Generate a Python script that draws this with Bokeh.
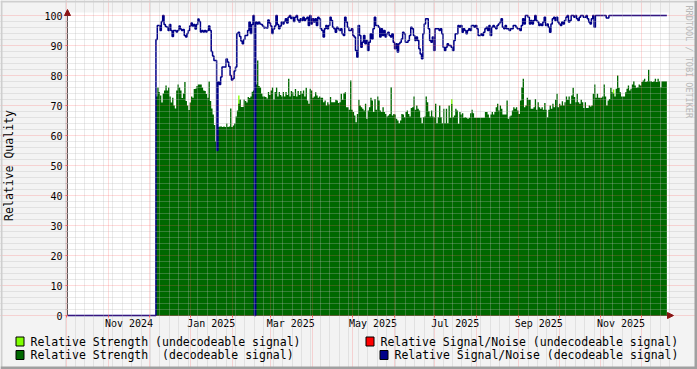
import numpy as np
import pandas as pd
from math import pi
from bokeh.plotting import figure
from bokeh.models import Range1d, FixedTicker, Label, BoxAnnotation, Arrow, NormalHead
from bokeh.embed import file_html
from bokeh.resources import INLINE

# ---------------- data ----------------
origin = pd.Timestamp("2024-11-01")
first_day = "2024-12-06"

strength_decodeable = [
    73, 76, 74.5, 73.3, 71, 74, 75, 76.7, 75, 76, 73, 71, 72.6, 70, 69, 75, 77, 76, 75, 72.5,
    74, 77.8, 71.5, 70, 68.5, 71, 73, 72.6, 75.5, 75.6, 76.5, 77, 77, 77, 76, 75, 74.8, 73.8, 72.6, 78,
    71.5, 69, 67, 63.5, 58, 55, 62.8, 63, 63, 62.8, 63, 62.8, 64, 62.8, 63, 69, 62.8, 63.3, 64, 66.3,
    68.3, 70.6,
    72, 69.5, 69.5, 72, 71.5, 71, 72.8, 72.5, 73, 74.6, 75, 75, 77, 85, 76.5, 76, 74, 73, 73, 72.8,
    72.3, 74.5, 73.5, 75, 76, 72, 74.5, 76, 73, 74.5, 73.5, 73, 74.5, 73, 74.5, 73.5, 78.9, 73, 74.8, 74.4,
    73.2, 75.5, 73, 74.8, 73.5, 74.8, 74, 75, 73, 75.9, 71.7, 70.6, 75.6, 75, 72.6, 73, 74.4, 73.3, 72.6, 73,
    72.6, 72.6, 71.1,
    71.7, 70, 71.1, 70.3, 72.8, 71.1, 71.1, 71.1, 71.9, 71.7, 70.8, 71.1, 73.9, 71.9, 74.1, 74.4, 69.4, 69.4, 68.6, 78.3,
    68.6, 67.8, 66.7, 64.4, 67.2, 71.9, 70, 69.4, 68.9, 68.3, 70.6, 65.6, 68.3, 69.4, 72.6, 71.7, 67.8, 72.2, 68.6, 73,
    71.7, 68.3, 67.8, 69.4, 67.8, 67.2, 66.3, 66.7, 67.2, 76.1, 66.7, 67.2, 67, 65.6, 65, 64.1, 65, 67.2, 67, 66.1,
    67.8, 68.3, 67.2,
    66.3, 69.2, 69.4, 73, 68.6, 70, 68.9, 68.3, 65.9, 64.1, 66.1, 66.3, 73, 71.1, 68.1, 66.3, 68.3, 66.3, 66.1, 70.6,
    64.1, 66.1, 70, 66.1, 64.1, 68.9, 64.1, 68.9, 64.1, 70, 65.9, 70.5, 66.1, 66.7, 68.9, 68.3, 63.9, 67.8, 67, 67.4,
    65.9, 66.1, 65.9, 65.6, 65.9, 67.4, 68.6, 67.4, 65.9, 65.9, 65.9, 65.9, 65.9, 65.9, 65.9, 65.9, 67.8, 67.8, 67, 65.9,
    67, 67.8, 67,
    67.8, 69.4, 70.6, 68.3, 70, 68.9, 67, 67, 67, 71.7, 65.6, 66.3, 66.7, 68.3, 69.4, 68.9, 69.4, 68.3, 67.2, 71.7,
    76.1, 78.9, 69.4, 70, 72.6, 71.9, 71.9, 68.9, 68.9, 69.4, 72.2, 68.6, 71.1, 69.4, 68.9, 69.4, 68.6, 70.8, 68.6, 66.1,
    68.6, 70, 68.9, 70.6, 69.4, 71.9, 73.9, 69.4, 70.6, 70, 71.4, 70, 71.1, 73, 71.9, 73, 70.6, 73.3, 75.9, 72.8,
    71.1, 73.9, 71.1,
    70.6, 71.9, 71.1, 69.2, 71.1, 69.2, 69.2, 70, 69.7, 70, 73.9, 77, 72.6, 73.9, 72.6, 72.6, 72.6, 73, 77, 73,
    70, 71.7, 72.2, 75.9, 74.4, 74, 73, 75.6, 80, 75.9, 74.4, 73, 73, 73, 74.4, 75.6, 76.7, 75, 75.6, 77,
    78.1, 76.7, 75.9, 76.1, 77, 76.7, 77.8, 78.3, 78.9, 77.8, 78.1, 81.9, 78.1, 78.1, 77.8, 78.1, 78.9, 77.8, 78.9, 78.1,
    76.1, 78.1, 78.1, 78.1, 78.1,
]

snr_decodeable = [
    92, 96.7, 96.7, 95, 98, 100, 97, 96.3, 96.1, 95, 97, 95, 93, 95, 95, 94.5, 95, 96.5, 95.5, 95,
    95.3, 93.3, 92.8, 94, 95, 96.5, 97.5, 96.5, 97, 95.5, 97, 98.8, 98, 94.5, 95, 94.5, 95, 94.5, 95, 96.5,
    95, 88, 86.5, 85, 85, 55, 77.8, 77, 79.5, 82.8, 82.8, 82.8, 85.5, 84.5, 83, 80, 78.5, 79, 81.5, 82.8,
    94, 94.4,
    93, 91.5, 90.6, 92, 93.3, 93.3, 95, 97.8, 94, 97, 100, 0, 97.8, 97.2, 97.8, 97.2, 97, 96.5, 95.8, 96,
    95.8, 98.5, 97.5, 96.5, 94, 95.5, 96.5, 100, 97, 95.6, 96.5, 97.8, 97.2, 98, 98.9, 97.5, 99.4, 100, 99, 99.4,
    98, 99.4, 100, 98.5, 97.8, 98.9, 98.3, 99.4, 98.3, 98.9, 99.4, 96.7, 100, 97.2, 98.9, 97.8, 98.9, 96.7, 99.4, 98.9,
    95.6, 95, 92.8,
    95.6, 96.7, 95.6, 96.7, 99.4, 98.3, 96.1, 95.6, 94.4, 96.1, 95.6, 95, 95.6, 93.9, 93.3, 99.4, 97.8, 96.1, 95, 95,
    95.6, 93.3, 92.8, 88.3, 86.1, 96.7, 93.3, 89.4, 91.1, 93.3, 90.6, 91.7, 88.3, 91.1, 93.9, 92.2, 95.6, 99.4, 96.7, 96.7,
    96.1, 92.8, 95.6, 93.3, 95, 92.8, 93.9, 94.4, 93.3, 92.8, 93.9, 91.1, 88.9, 90.6, 87.8, 90.6, 91.1, 92.2, 94.4, 93.9,
    91.1, 91.1, 91.7,
    93.3, 96.1, 95.6, 93.3, 91.7, 92.8, 91.7, 88.9, 87.2, 85.6, 93.9, 97.2, 98.9, 98.9, 95.6, 91.7, 91.1, 92.8, 88.3, 95.6,
    95.6, 95.6, 95, 95.6, 93.9, 89.4, 88.3, 89.4, 90.6, 90, 90, 89.4, 88.3, 91.7, 93.9, 93.9, 96.7, 96.1, 96.7, 94.4,
    95.6, 95, 93.9, 95, 95.6, 95, 96.7, 96.7, 96.1, 96.7, 95.6, 93.3, 93.3, 93.9, 93.3, 94.4, 95.6, 96.1, 95, 96.7,
    93.3, 96.1, 96.7,
    96.1, 95.6, 96.7, 97.2, 97.8, 98.9, 96.1, 95.6, 96.7, 95.6, 95.6, 95, 95.6, 95.6, 96.7, 96.7, 96.1, 95.6, 95.6, 95,
    96.7, 98.9, 97.2, 100, 100, 99.4, 97.2, 98.3, 97.2, 98.3, 100, 98.3, 97.8, 96.7, 97.2, 96.7, 97.8, 99.4, 96.7, 97.2,
    96.1, 94.4, 97.2, 98.9, 99.4, 98.3, 99.4, 97.8, 97.2, 96.7, 97.8, 97.2, 98.3, 99.4, 100, 97.8, 98.3, 100, 100, 99.4,
    100, 98.9, 98.3,
    99.4, 100, 100, 99.4, 99.4, 100, 98.9, 97.8, 97.2, 98.9, 100, 96.1, 100, 100, 100, 100, 100, 100, 100, 100,
    99.2, 99.2, 100, 100, 100, 100, 100, 100, 100, 100, 100, 100, 100, 100, 100, 100, 100, 100, 100, 100,
    100, 100, 100, 100, 100, 100, 100, 100, 100, 100, 100, 100, 100, 100, 100, 100, 100, 100, 100, 100,
    100, 100, 100, 100, 100,
]
snr_before_first_day = 0.0   # the S/N line lies on zero before the receiver started

strength_undecodeable_dates = ["2025-02-05", "2025-07-13", "2025-11-10"]
strength_undecodeable = [73.3, 72.2, 75.3]

month_label_dates = ["2024-11-01", "2025-01-01", "2025-03-01", "2025-05-01",
                     "2025-07-01", "2025-09-01", "2025-11-01"]
month_labels = ["Nov 2024", "Jan 2025", "Mar 2025", "May 2025", "Jul 2025", "Sep 2025", "Nov 2025"]
y_ticks = [0, 10, 20, 30, 40, 50, 60, 70, 80, 90, 100]

legend_labels = ["Relative Strength (undecodeable signal)",
                 "Relative Strength\u00a0 (decodeable signal)",
                 "Relative Signal/Noise (undecodeable signal)",
                 "Relative Signal/Noise (decodeable signal)"]

# ---------------- layout constants ----------------
W, H = 697, 369
PLOT_LEFT, PLOT_RIGHT, PLOT_TOP, PLOT_BOTTOM = 67, 668, 15, 315   # canvas pixels
plot_start = "2024-10-01 09:30"     # date at the y axis
canvas_end = "2025-12-21 05:00"     # right end of the white canvas


def to_day(d):
    return (pd.Timestamp(d) - origin) / pd.Timedelta(days=1)


ps, ce = to_day(plot_start), to_day(canvas_end)
px_day = (PLOT_RIGHT - PLOT_LEFT) / (ce - ps)
x0 = ps - PLOT_LEFT / px_day
x1 = x0 + W / px_day
px_unit = (PLOT_BOTTOM - PLOT_TOP) / 100.0
y0 = -(H - PLOT_BOTTOM) / px_unit
y1 = 100 + PLOT_TOP / px_unit

C_BG = "#F3F3F3"
C_LGREEN = "#80FF00"
C_DGREEN = "#006800"
C_RED = "#FF0000"
C_NAVY = "#000088"
C_AXIS = "#5E5555"
C_ARROW = "#8B1515"
C_MGRID = "#FF5F5F"
C_GRID = "#B8B8B8"
MONO = "DejaVu Sans Mono"

n = len(strength_decodeable)
days = to_day(first_day) + np.arange(n)
days_ext = np.append(days, days[-1] + 1)
strength_ext = list(strength_decodeable) + [strength_decodeable[-1]]
snr_x = [ps] + list(days_ext)
snr_y = [snr_before_first_day] + list(snr_decodeable) + [snr_decodeable[-1]]

p = figure(width=W, height=H, output_backend="svg", toolbar_location=None,
           x_range=Range1d(x0, x1), y_range=Range1d(y0, y1),
           min_border=0, min_border_left=0, min_border_right=0,
           min_border_top=0, min_border_bottom=0,
           background_fill_color=C_BG, border_fill_color=C_BG, outline_line_color=None)
p.title.visible = False

# white canvas
p.quad(left=[ps], right=[ce], bottom=[0], top=[100 + 3 / px_unit],
       fill_color="white", line_color=None)
# x axis line (under the data, as in rrdtool)
p.segment(x0=[ps], y0=[0], x1=[ce], y1=[0], line_color=C_AXIS, line_width=1)

# undecodeable strength (behind)
p.vbar(x=[to_day(d) + 0.5 for d in strength_undecodeable_dates], width=1.0,
       top=strength_undecodeable, bottom=0, fill_color=C_LGREEN, line_color=None)
# decodeable strength area
p.varea_step(x=days_ext, y1=np.zeros(len(days_ext)), y2=strength_ext,
             step_mode="after", fill_color=C_DGREEN)
# decodeable S/N line
p.step(x=snr_x, y=snr_y, mode="after", line_color=C_NAVY, line_width=1.5)

# ---------------- grids ----------------
month_days = [to_day(d) for d in pd.date_range("2024-10-01", "2025-12-01", freq="MS")]
week_days = [to_day(d) for d in pd.date_range("2024-09-30", "2025-12-22", freq="W-MON")
             if d.day != 1]
y_minor = [v for v in range(0, 101, 2) if v % 10]

xg = p.xgrid[0]
xg.ticker = FixedTicker(ticks=month_days, minor_ticks=week_days)
xg.bounds = (0, 100)
yg = p.ygrid[0]
yg.ticker = FixedTicker(ticks=y_ticks, minor_ticks=y_minor)
yg.bounds = (ps, ce)
for g in (xg, yg):
    g.level = "guide"
    g.grid_line_color = C_MGRID
    g.grid_line_alpha = 0.45
    g.grid_line_dash = "1 1"
    g.minor_grid_line_color = C_GRID
    g.minor_grid_line_alpha = 0.6
    g.minor_grid_line_dash = "1 1"

# ---------------- axes ----------------
label_days = [int(to_day(d)) + 15 for d in month_label_dates]
xa = p.xaxis[0]
xa.fixed_location = 0
xa.bounds = (ps, ce)
xa.ticker = FixedTicker(ticks=label_days, minor_ticks=month_days)
xa.major_label_overrides = {d: s for d, s in zip(label_days, month_labels)}
xa.major_tick_line_color = None
xa.major_tick_out = 0
xa.major_tick_in = 0
xa.minor_tick_line_color = C_MGRID
xa.minor_tick_out = 2
xa.minor_tick_in = 0
xa.axis_line_color = None
xa.major_label_standoff = 0
xa.major_label_text_font = MONO
xa.major_label_text_font_size = "10px"
xa.major_label_text_color = "black"

ya = p.yaxis[0]
ya.fixed_location = ps
ya.bounds = (0, 100)
ya.ticker = FixedTicker(ticks=y_ticks, minor_ticks=y_minor)
ya.major_tick_line_color = C_MGRID
ya.major_tick_out = 2
ya.major_tick_in = 0
ya.minor_tick_line_color = C_GRID
ya.minor_tick_out = 2
ya.minor_tick_in = 0
ya.axis_line_color = C_AXIS
ya.major_label_standoff = 3
ya.major_label_text_font = MONO
ya.major_label_text_font_size = "10px"
ya.major_label_text_color = "black"
ya.axis_label = "Relative Quality"
ya.axis_label_text_font = MONO
ya.axis_label_text_font_size = "11.5px"
ya.axis_label_text_font_style = "normal"
ya.axis_label_text_color = "black"
ya.axis_label_standoff = 25

# arrows
p.add_layout(Arrow(end=NormalHead(size=6, fill_color=C_ARROW, line_color=C_ARROW),
                   x_start=ps, y_start=100, x_end=ps, y_end=100 + 6 / px_unit,
                   line_color=C_AXIS))
p.add_layout(Arrow(end=NormalHead(size=6, fill_color=C_ARROW, line_color=C_ARROW),
                   x_start=ce, y_start=0, x_end=ce + 5 / px_day, y_end=0,
                   line_color=C_AXIS))

# ---------------- legend (screen units, origin bottom-left) ----------------
legend_colors = [C_LGREEN, C_DGREEN, C_RED, C_NAVY]
box_left = [15.5, 15.5, 365.5, 379.5]
text_left = [30, 30, 380, 394]
row_center = [341, 354.5, 341, 354.5]
for lab, col, bl, tl, rc in zip(legend_labels, legend_colors, box_left, text_left, row_center):
    p.add_layout(BoxAnnotation(left=bl, right=bl + 8, top=H - rc + 4.5, bottom=H - rc - 4.5,
                               left_units="screen", right_units="screen",
                               bottom_units="screen", top_units="screen",
                               fill_color=col, fill_alpha=1, line_color="black",
                               line_width=1, line_alpha=1))
    p.add_layout(Label(x=tl, y=H - rc, x_units="screen", y_units="screen", text=lab,
                       text_font=MONO, text_font_size="11.5px", text_baseline="middle",
                       text_align="left", text_color="black"))

# watermark
p.add_layout(Label(x=688, y=H - 5, x_units="screen", y_units="screen",
                   text="RRDTOOL / TOBI OETIKER", angle=-pi / 2, text_font=MONO,
                   text_font_size="8.5px", text_color="#B8B8B8",
                   text_align="left", text_baseline="middle"))

# 3-D frame of the image
for l, r, b, t, c in [(0, W, H - 2, H, "#CFCFCF"), (0, 2, 0, H, "#CFCFCF"),
                      (W - 3, W, 0, H, "#A0A0A0"), (0, W, 0, 3, "#A0A0A0")]:
    p.add_layout(BoxAnnotation(left=l, right=r, bottom=b, top=t,
                               left_units="screen", right_units="screen",
                               bottom_units="screen", top_units="screen",
                               fill_color=c, fill_alpha=1, line_color=None))

open("out.html", "w").write(file_html(p, INLINE))
